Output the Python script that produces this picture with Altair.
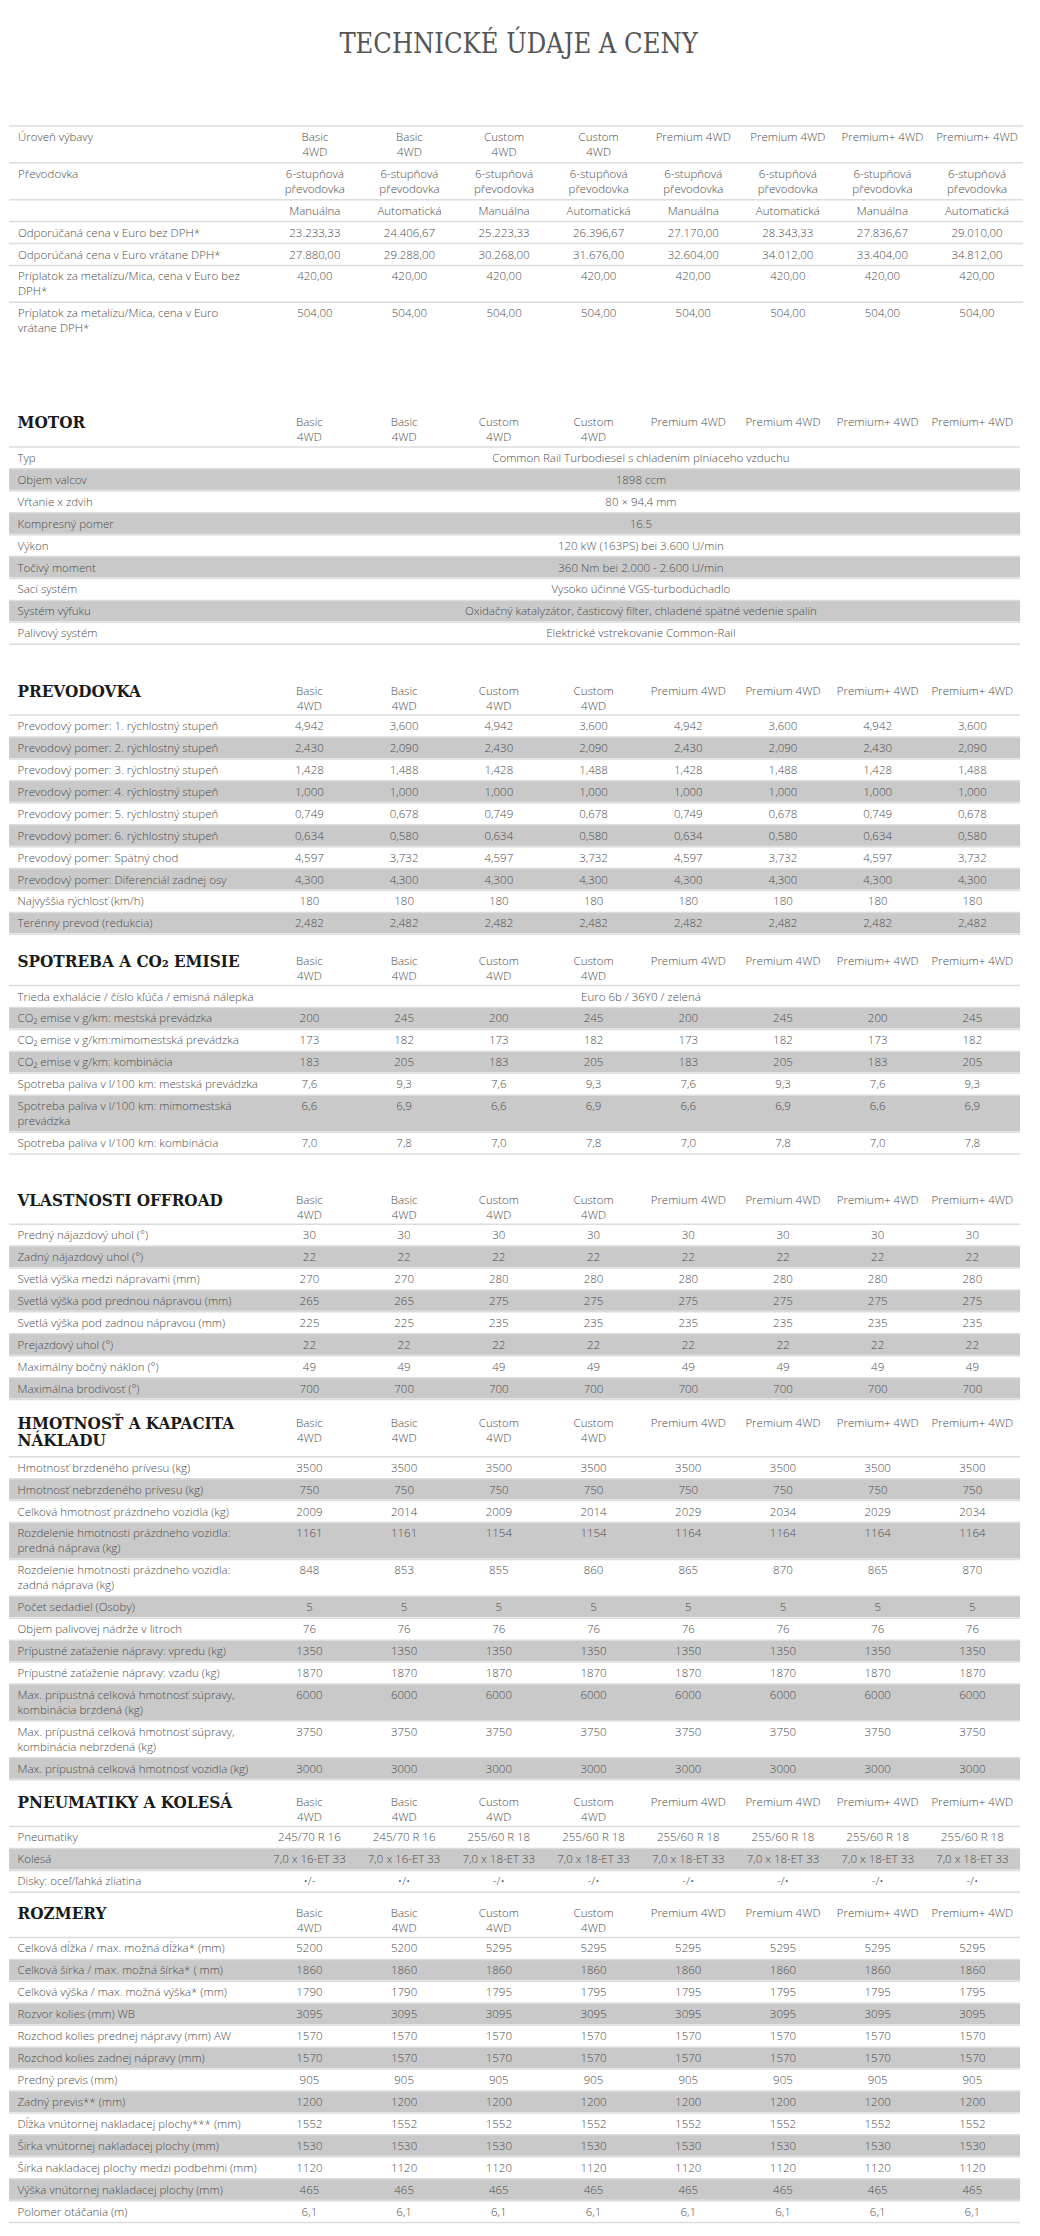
import altair as alt
import pandas as pd

# ---------------- DATA ----------------
TITLE = "TECHNICKÉ ÚDAJE A CENY"

COL_HEADS = ["Basic\n4WD", "Basic\n4WD", "Custom\n4WD", "Custom\n4WD",
             "Premium 4WD", "Premium 4WD", "Premium+ 4WD", "Premium+ 4WD"]

price_labels = [
    "Úroveň výbavy",
    "Převodovka",
    "",
    "Odporúčaná cena v Euro bez DPH*",
    "Odporúčaná cena v Euro vrátane DPH*",
    "Príplatok za metalízu/Mica, cena v Euro bez\nDPH*",
    "Príplatok za metalízu/Mica, cena v Euro\nvrátane DPH*",
]
price_values = [
    COL_HEADS,
    ["6-stupňová\npřevodovka"] * 8,
    ["Manuálna", "Automatická", "Manuálna", "Automatická",
     "Manuálna", "Automatická", "Manuálna", "Automatická"],
    ["23.233,33", "24.406,67", "25.223,33", "26.396,67", "27.170,00", "28.343,33", "27.836,67", "29.010,00"],
    ["27.880,00", "29.288,00", "30.268,00", "31.676,00", "32.604,00", "34.012,00", "33.404,00", "34.812,00"],
    ["420,00", "420,00", "420,00", "420,00", "420,00", "420,00", "420,00", "420,00"],
    ["504,00", "504,00", "504,00", "504,00", "504,00", "504,00", "504,00", "504,00"],
]

motor_labels = ["Typ", "Objem valcov", "Vŕtanie x zdvih", "Kompresný pomer", "Výkon",
                "Točivý moment", "Sací systém", "Systém výfuku", "Palivový systém"]
motor_values = [
    "Common Rail Turbodiesel s chladením plniaceho vzduchu",
    "1898 ccm",
    "80 × 94,4 mm",
    "16.5",
    "120 kW (163PS) bei 3.600 U/min",
    "360 Nm bei 2.000 - 2.600 U/min",
    "Vysoko účinné VGS-turbodúchadlo",
    "Oxidačný katalyzátor, časticový filter, chladené spätné vedenie spalín",
    "Elektrické vstrekovanie Common-Rail",
]

gear_labels = [
    "Prevodový pomer: 1. rýchlostný stupeň",
    "Prevodový pomer: 2. rýchlostný stupeň",
    "Prevodový pomer: 3. rýchlostný stupeň",
    "Prevodový pomer: 4. rýchlostný stupeň",
    "Prevodový pomer: 5. rýchlostný stupeň",
    "Prevodový pomer: 6. rýchlostný stupeň",
    "Prevodový pomer: Spätný chod",
    "Prevodový pomer: Diferenciál zadnej osy",
    "Najvyššia rýchlosť (km/h)",
    "Terénny prevod (redukcia)",
]
gear_values = [
    ["4,942", "3,600", "4,942", "3,600", "4,942", "3,600", "4,942", "3,600"],
    ["2,430", "2,090", "2,430", "2,090", "2,430", "2,090", "2,430", "2,090"],
    ["1,428", "1,488", "1,428", "1,488", "1,428", "1,488", "1,428", "1,488"],
    ["1,000", "1,000", "1,000", "1,000", "1,000", "1,000", "1,000", "1,000"],
    ["0,749", "0,678", "0,749", "0,678", "0,749", "0,678", "0,749", "0,678"],
    ["0,634", "0,580", "0,634", "0,580", "0,634", "0,580", "0,634", "0,580"],
    ["4,597", "3,732", "4,597", "3,732", "4,597", "3,732", "4,597", "3,732"],
    ["4,300", "4,300", "4,300", "4,300", "4,300", "4,300", "4,300", "4,300"],
    ["180", "180", "180", "180", "180", "180", "180", "180"],
    ["2,482", "2,482", "2,482", "2,482", "2,482", "2,482", "2,482", "2,482"],
]

emis_labels = [
    "Trieda exhalácie / číslo kľúča / emisná nálepka",
    "CO₂ emise v g/km: mestská prevádzka",
    "CO₂ emise v g/km:mimomestská prevádzka",
    "CO₂ emise v g/km: kombinácia",
    "Spotreba paliva v l/100 km: mestská prevádzka",
    "Spotreba paliva v l/100 km: mimomestská\nprevádzka",
    "Spotreba paliva v l/100 km: kombinácia",
]
emis_values = [
    "Euro 6b / 36Y0 / zelená",
    ["200", "245", "200", "245", "200", "245", "200", "245"],
    ["173", "182", "173", "182", "173", "182", "173", "182"],
    ["183", "205", "183", "205", "183", "205", "183", "205"],
    ["7,6", "9,3", "7,6", "9,3", "7,6", "9,3", "7,6", "9,3"],
    ["6,6", "6,9", "6,6", "6,9", "6,6", "6,9", "6,6", "6,9"],
    ["7,0", "7,8", "7,0", "7,8", "7,0", "7,8", "7,0", "7,8"],
]

off_labels = [
    "Predný nájazdový uhol (°)",
    "Zadný nájazdový uhol (°)",
    "Svetlá výška medzi nápravami (mm)",
    "Svetlá výška pod prednou nápravou (mm)",
    "Svetlá výška pod zadnou nápravou (mm)",
    "Prejazdový uhol (°)",
    "Maximálny bočný náklon (°)",
    "Maximálna brodivosť (°)",
]
off_values = [
    ["30", "30", "30", "30", "30", "30", "30", "30"],
    ["22", "22", "22", "22", "22", "22", "22", "22"],
    ["270", "270", "280", "280", "280", "280", "280", "280"],
    ["265", "265", "275", "275", "275", "275", "275", "275"],
    ["225", "225", "235", "235", "235", "235", "235", "235"],
    ["22", "22", "22", "22", "22", "22", "22", "22"],
    ["49", "49", "49", "49", "49", "49", "49", "49"],
    ["700", "700", "700", "700", "700", "700", "700", "700"],
]

mass_labels = [
    "Hmotnosť brzdeného prívesu (kg)",
    "Hmotnosť nebrzdeného prívesu (kg)",
    "Celková hmotnosť prázdneho vozidla (kg)",
    "Rozdelenie hmotnosti prázdneho vozidla:\npredná náprava (kg)",
    "Rozdelenie hmotnosti prázdneho vozidla:\nzadná náprava (kg)",
    "Počet sedadiel (Osoby)",
    "Objem palivovej nádrže v litroch",
    "Prípustné zaťaženie nápravy: vpredu (kg)",
    "Prípustné zaťaženie nápravy: vzadu (kg)",
    "Max. prípustná celková hmotnosť súpravy,\nkombinácia brzdená (kg)",
    "Max. prípustná celková hmotnosť súpravy,\nkombinácia nebrzdená (kg)",
    "Max. prípustná celková hmotnosť vozidla (kg)",
]
mass_values = [
    ["3500", "3500", "3500", "3500", "3500", "3500", "3500", "3500"],
    ["750", "750", "750", "750", "750", "750", "750", "750"],
    ["2009", "2014", "2009", "2014", "2029", "2034", "2029", "2034"],
    ["1161", "1161", "1154", "1154", "1164", "1164", "1164", "1164"],
    ["848", "853", "855", "860", "865", "870", "865", "870"],
    ["5", "5", "5", "5", "5", "5", "5", "5"],
    ["76", "76", "76", "76", "76", "76", "76", "76"],
    ["1350", "1350", "1350", "1350", "1350", "1350", "1350", "1350"],
    ["1870", "1870", "1870", "1870", "1870", "1870", "1870", "1870"],
    ["6000", "6000", "6000", "6000", "6000", "6000", "6000", "6000"],
    ["3750", "3750", "3750", "3750", "3750", "3750", "3750", "3750"],
    ["3000", "3000", "3000", "3000", "3000", "3000", "3000", "3000"],
]

tire_labels = ["Pneumatiky", "Kolesá", "Disky: oceľ/ľahká zliatina"]
tire_values = [
    ["245/70 R 16", "245/70 R 16", "255/60 R 18", "255/60 R 18",
     "255/60 R 18", "255/60 R 18", "255/60 R 18", "255/60 R 18"],
    ["7,0 x 16-ET 33", "7,0 x 16-ET 33", "7,0 x 18-ET 33", "7,0 x 18-ET 33",
     "7,0 x 18-ET 33", "7,0 x 18-ET 33", "7,0 x 18-ET 33", "7,0 x 18-ET 33"],
    ["•/-", "•/•", "-/•", "-/•", "-/•", "-/•", "-/•", "-/•"],
]

dim_labels = [
    "Celková dĺžka / max. možná dĺžka* (mm)",
    "Celková šírka / max. možná šírka* ( mm)",
    "Celková výška / max. možná výška* (mm)",
    "Rozvor kolies (mm) WB",
    "Rozchod kolies prednej nápravy (mm) AW",
    "Rozchod kolies zadnej nápravy (mm)",
    "Predný previs (mm)",
    "Zadný previs** (mm)",
    "Dĺžka vnútornej nakladacej plochy*** (mm)",
    "Šírka vnútornej nakladacej plochy (mm)",
    "Šírka nakladacej plochy medzi podbehmi (mm)",
    "Výška vnútornej nakladacej plochy (mm)",
    "Polomer otáčania (m)",
]
dim_values = [
    ["5200", "5200", "5295", "5295", "5295", "5295", "5295", "5295"],
    ["1860", "1860", "1860", "1860", "1860", "1860", "1860", "1860"],
    ["1790", "1790", "1795", "1795", "1795", "1795", "1795", "1795"],
    ["3095", "3095", "3095", "3095", "3095", "3095", "3095", "3095"],
    ["1570", "1570", "1570", "1570", "1570", "1570", "1570", "1570"],
    ["1570", "1570", "1570", "1570", "1570", "1570", "1570", "1570"],
    ["905", "905", "905", "905", "905", "905", "905", "905"],
    ["1200", "1200", "1200", "1200", "1200", "1200", "1200", "1200"],
    ["1552", "1552", "1552", "1552", "1552", "1552", "1552", "1552"],
    ["1530", "1530", "1530", "1530", "1530", "1530", "1530", "1530"],
    ["1120", "1120", "1120", "1120", "1120", "1120", "1120", "1120"],
    ["465", "465", "465", "465", "465", "465", "465", "465"],
    ["6,1", "6,1", "6,1", "6,1", "6,1", "6,1", "6,1", "6,1"],
]

SECTIONS = [
    ("MOTOR", motor_labels, motor_values),
    ("PREVODOVKA", gear_labels, gear_values),
    ("SPOTREBA A CO₂ EMISIE", emis_labels, emis_values),
    ("VLASTNOSTI OFFROAD", off_labels, off_values),
    ("HMOTNOSŤ A KAPACITA\nNÁKLADU", mass_labels, mass_values),
    ("PNEUMATIKY A KOLESÁ", tire_labels, tire_values),
    ("ROZMERY", dim_labels, dim_values),
]

# ---------------- LAYOUT (page-pixel units of the layout grid) ----------------
X0, X1 = 8, 1032
Y0, Y1 = 10, 2226
TITLE_POS = (514, 47)
TOP_TABLE_Y = 128.3
TOP_COL0, TOP_DCOL, TOP_LABEL_X, TOP_RIGHT = 308.5, 95.43, 9, 1023
SEC_COL0, SEC_DCOL, SEC_LABEL_X, SEC_RIGHT = 303, 95.55, 8.5, 1020
SECTION_GAPS = [71, 34, 14.4, 33.3, 11.3, 10, 8.3]
ROW_H, LINE_H, TEXT_OFF = 22, 15, 12

def split(s):
    return s.split("\n")

rects, rules, labels, values, heads = [], [], [], [], []

def put_lines(lst, x, ytop, text, step=LINE_H, off=TEXT_OFF):
    for k, part in enumerate(split(text)):
        if part:
            lst.append({"x": x, "y": ytop + off + step * k, "t": part})

# top price table
y = TOP_TABLE_Y
rules.append({"x": 0, "x2": TOP_RIGHT, "y": y})
for r, (lab, vals) in enumerate(zip(price_labels, price_values)):
    n = max([len(split(lab))] + [len(split(v)) for v in vals])
    put_lines(labels, TOP_LABEL_X, y, lab)
    for i, v in enumerate(vals):
        put_lines(values, TOP_COL0 + TOP_DCOL * i, y, v)
    y += ROW_H + LINE_H * (n - 1)
    if r < len(price_labels) - 1:
        rules.append({"x": 0, "x2": TOP_RIGHT, "y": y})

# sections
sec_mid = SEC_COL0 + SEC_DCOL * 3.5
for s, (head, labs, vals_list) in enumerate(SECTIONS):
    head_top = y + SECTION_GAPS[s]
    hl = len(split(head))
    head_h = 37 if hl == 1 else 46
    put_lines(heads, SEC_LABEL_X, head_top, head, step=17, off=13.5)
    for i, v in enumerate(COL_HEADS):
        put_lines(values, SEC_COL0 + SEC_DCOL * i, head_top, v, off=13.5)
    y = head_top + head_h
    rules.append({"x": 0, "x2": SEC_RIGHT, "y": y})
    for r, (lab, vals) in enumerate(zip(labs, vals_list)):
        cells = vals if isinstance(vals, list) else [vals]
        n = max([len(split(lab))] + [len(split(v)) for v in cells])
        h = ROW_H + LINE_H * (n - 1)
        if r % 2 == 1:
            rects.append({"x": 0, "x2": SEC_RIGHT, "y": y, "y2": y + h - 1})
        put_lines(labels, SEC_LABEL_X, y, lab)
        if isinstance(vals, list):
            for i, v in enumerate(vals):
                put_lines(values, SEC_COL0 + SEC_DCOL * i, y, v)
        else:
            put_lines(values, sec_mid, y, vals)
        y += h
        rules.append({"x": 0, "x2": SEC_RIGHT, "y": y})

# ---------------- CHART ----------------
xs = alt.Scale(domain=[X0, X1], nice=False, zero=False)
ys = alt.Scale(domain=[Y0, Y1], nice=False, zero=False, reverse=True)
X = lambda f="x": alt.X(f"{f}:Q", scale=xs, axis=None)
Yc = lambda f="y": alt.Y(f"{f}:Q", scale=ys, axis=None)

BODY_FONT = "Open Sans"
TEXT_COL = "#4d4d4d"

rect_layer = alt.Chart(pd.DataFrame(rects)).mark_rect(color="#c9c9c9").encode(
    x=X(), x2="x2:Q", y=Yc(), y2="y2:Q")

rule_layer = alt.Chart(pd.DataFrame(rules)).mark_rule(color="#dcdcdc", strokeWidth=1.5).encode(
    x=X(), x2="x2:Q", y=Yc())

label_layer = alt.Chart(pd.DataFrame(labels)).mark_text(
    align="left", baseline="middle", font=BODY_FONT, fontSize=11.5, fontWeight=300, color=TEXT_COL
).encode(x=X(), y=Yc(), text="t:N")

value_layer = alt.Chart(pd.DataFrame(values)).mark_text(
    align="center", baseline="middle", font=BODY_FONT, fontSize=11.5, fontWeight=300, color=TEXT_COL
).encode(x=X(), y=Yc(), text="t:N")

head_layer = alt.Chart(pd.DataFrame(heads)).mark_text(
    align="left", baseline="middle", font="DejaVu Serif Condensed, DejaVu Serif",
    fontWeight="bold", fontSize=17, color="#1a1a1a"
).encode(x=X(), y=Yc(), text="t:N")

title_layer = alt.Chart(pd.DataFrame([{"x": TITLE_POS[0], "y": TITLE_POS[1], "t": TITLE}])).mark_text(
    align="center", baseline="middle", font="DejaVu Serif Condensed, Liberation Serif",
    fontSize=27, color="#555555"
).encode(x=X(), y=Yc(), text="t:N")

chart = alt.layer(
    rect_layer, rule_layer, label_layer, value_layer, head_layer, title_layer
).properties(
    width=X1 - X0, height=Y1 - Y0, padding=0,
    autosize=alt.AutoSizeParams(type="fit", contains="padding"),
    background="white",
).configure_view(stroke=None)

chart.save("out.html", embed_options={"renderer": "svg", "actions": False})
